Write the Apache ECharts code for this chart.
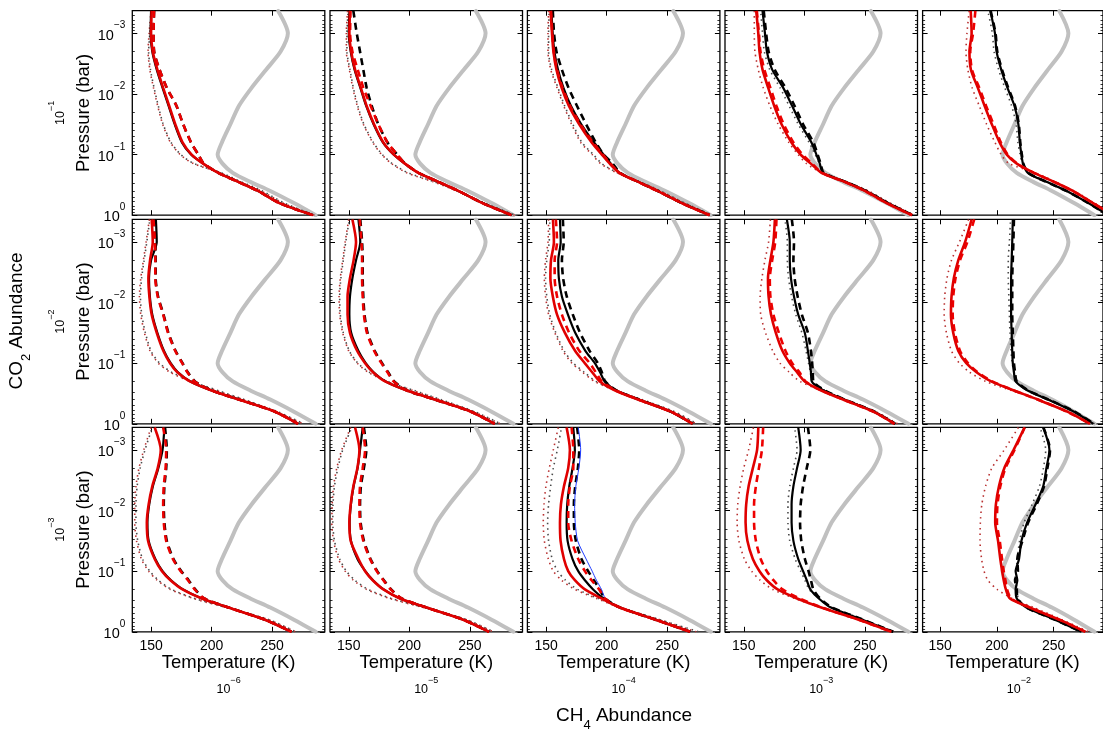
<!DOCTYPE html>
<html><head><meta charset="utf-8">
<script src="https://cdn.jsdelivr.net/npm/echarts@6/dist/echarts.min.js"></script>
<style>html,body{margin:0;padding:0;background:#fff}#c{width:1103px;height:731px}</style>
</head><body><div id="c"></div>
<script>
// ---------------- data ----------------
// pressure levels (bar) shared by every profile
const PRESSURE = [4.27e-4, 1e-3, 2e-3, 3.98e-3, 7.94e-3, 0.0158, 0.0316, 0.0631, 0.1, 0.141, 0.2, 0.282, 0.398, 0.631, 1.0];
const CH4_LABELS = ['−6', '−5', '−4', '−3', '−2'];
const CO2_LABELS = ['−1', '−2', '−3'];
const T_TICKS = [150, 200, 250];
const P_TICKS = [0.001, 0.01, 0.1, 1];

// reference profile (grey, identical in all panels)
const GRAY = [255, 263, 257, 245, 233, 222.5, 215.5, 208.5, 205, 209, 217.5, 232, 248.5, 268, 286];

// panels in row-major order: rows CO2 = 1e-1,1e-2,1e-3 ; columns CH4 = 1e-6..1e-2
const RED_SOLID = [
  [150.5, 150, 151.4, 155.2, 160, 165, 170, 176, 183.5, 193, 205.5, 222, 238.4, 256, 283.7],
  [151, 150.5, 152, 155.2, 160, 164.8, 170.9, 178.6, 187.3, 196.4, 207.4, 224, 240.5, 260.5, 284.5],
  [153.7, 154.8, 156, 158.5, 162.8, 168.8, 177.3, 187.6, 196, 202.5, 210.5, 226, 242, 262, 285],
  [160.3, 162, 163, 165.5, 170.2, 175.2, 181.2, 189.4, 197, 205.4, 214.2, 233.3, 250, 268, 289],
  [176.9, 177.7, 175.8, 177.1, 183.2, 189.2, 195.5, 202.4, 208.7, 217.5, 232.6, 250.4, 266.9, 284.7, 302.5],
  [150.5, 151.4, 149.2, 147.8, 148.6, 150.5, 154.7, 160.2, 165.7, 171.7, 182.1, 200, 222.5, 252.4, 271.4],
  [153, 156, 154, 151, 149, 149, 151, 157, 163.5, 170, 180, 198, 221, 251, 270.5],
  [155.6, 156.4, 154, 153.5, 155.5, 159, 165.5, 174, 181.9, 188, 194.3, 207, 226, 253, 271],
  [175.7, 174.5, 172, 170, 170.5, 172.5, 176.5, 182, 188, 194, 200.4, 214, 232, 257, 274.5],
  [177.7, 172, 166, 162, 160, 159.5, 161.5, 166, 173, 182, 195, 215, 236, 262, 282],
  [153, 158, 155.5, 151, 148, 146.5, 147.5, 153, 159, 166, 176, 192, 214, 244, 266],
  [155.2, 158.8, 157.1, 153.8, 151.6, 150.5, 151.6, 158, 163.5, 169.8, 178.6, 192.3, 214.3, 244.5, 265.9],
  [166.9, 169.6, 168.2, 164.7, 162.2, 161.4, 161.9, 164.7, 168.2, 173.7, 182, 195.7, 210.8, 240.3, 269],
  [162, 161, 157.5, 154, 152, 151.5, 153, 157.5, 163, 169, 178, 194, 214, 245, 272],
  [224.4, 214.7, 206.5, 201.8, 199.1, 198.5, 201, 203, 204.6, 206, 207.9, 211.5, 229, 255, 278]
];
const RED_DASHED = [
  [152.5, 152, 152.5, 157, 163, 171, 176.5, 183, 189, 193.5, 205.5, 222, 238.4, 256, 283.7],
  [151.4, 151.1, 153, 157.4, 162.1, 168.1, 174.4, 182, 190, 196.6, 207.6, 224, 240.5, 260.5, 284.5],
  [154, 155.1, 156.3, 159, 163.5, 169.8, 178.3, 188.6, 196.8, 203, 210.5, 226, 242, 262, 285],
  [160.8, 162.5, 163.8, 167, 172, 177, 183, 191, 198.5, 206.5, 214.5, 233.3, 250, 268, 289],
  [181, 179, 176.5, 178, 184.5, 190.5, 197, 203.5, 209.5, 218, 232.6, 250.4, 266.9, 284.7, 302.5],
  [152, 153.2, 153.5, 153.5, 155.5, 160, 164, 170, 175.7, 180, 186, 200, 222.5, 252.4, 271.4],
  [159, 160.5, 161, 161, 161.5, 162.5, 165, 171, 177, 182, 187, 198, 221, 251, 270.5],
  [158, 159, 157, 157, 159, 163, 169, 177.5, 186, 191, 196, 207.5, 226, 253, 271],
  [177, 176, 173.5, 171.5, 172, 174.5, 179, 184.5, 190, 196, 201, 214, 232, 257, 274.5],
  [180, 174, 167.5, 163.5, 161.5, 161, 163, 167.5, 174.5, 183, 196, 215, 236, 262, 282],
  [160, 162.5, 162, 160.5, 160, 160.5, 162.5, 168, 174.5, 180.5, 186, 194, 214, 244, 266],
  [161.5, 163.5, 161.5, 159.3, 158.8, 159.3, 162, 167.6, 173.1, 178.6, 184.6, 193.7, 214.3, 244.5, 265.9],
  [171, 172.4, 172.4, 169.6, 168.2, 168.2, 171, 176.5, 182, 187.5, 193.8, 198.5, 211, 240.3, 269],
  [166, 165, 162.5, 160, 158.5, 158.5, 160, 164, 169, 174.5, 182, 196, 214.5, 245, 272],
  [224.4, 215.5, 207.5, 203, 200.5, 200, 202.5, 204.5, 206, 207.5, 209, 212.5, 229, 255, 278]
];
const RED_DOTTED = [
  [150, 148.4, 147.5, 149, 152, 155.5, 159.6, 166, 174, 185, 207, 223.3, 241, 259, 285],
  [149, 148, 148, 150.5, 153.3, 157, 162, 169.8, 177.2, 185.4, 198, 220, 239.5, 261.5, 287],
  [152, 151.5, 151.5, 153.8, 159, 164.5, 171, 178.5, 188, 195, 208.5, 227, 244, 264, 287],
  [158.7, 158.7, 159.2, 162, 166.1, 171.6, 178.4, 187.2, 194.9, 201.8, 214.2, 235, 253, 271, 291],
  [175.5, 173.6, 172.7, 174.4, 178.2, 184.5, 190.9, 198.3, 203.8, 210.7, 234, 251.5, 268, 286, 303],
  [148.6, 145.9, 143.7, 141.5, 140.4, 141.5, 144.5, 149.2, 156, 165.7, 182.1, 204, 226, 253.5, 275.5],
  [150, 147, 145, 143, 142, 142.5, 145, 150, 157, 166, 181, 203, 225, 253, 275],
  [152, 151.5, 149.5, 148.5, 149.5, 152, 157.2, 164, 171.2, 180, 190, 207, 228, 255, 274],
  [172, 170.5, 167.5, 165, 163.5, 164, 168, 174, 180, 187.5, 196.4, 214, 234, 259, 277],
  [175, 167, 160, 156, 154, 153.5, 155.5, 160, 167, 176, 190, 213, 237, 263, 283],
  [150, 144, 140, 137.5, 136.5, 136.5, 138, 142, 148, 155, 166, 185, 212, 247, 269],
  [151.6, 144.2, 140.1, 137.4, 136.3, 136, 137.4, 141.5, 147, 153.8, 164.8, 184, 211.5, 247.2, 269.2],
  [160, 155.9, 152.6, 149.8, 148.2, 147.6, 148.5, 151.8, 155.9, 162.7, 173.7, 191.6, 210.8, 243.8, 274],
  [158, 154, 150, 147, 145, 144.5, 146, 150.5, 156.5, 163.5, 174, 192, 214, 247, 274],
  [218.9, 206.5, 195.5, 190, 186.7, 185.4, 185.1, 186.5, 188.7, 192, 200.2, 213.4, 232.6, 257.3, 280.7]
];
const BLACK_SOLID = [
  [150, 149.6, 151, 154.7, 159.5, 164.5, 169.5, 175.5, 183, 193, 205.5, 222, 238.4, 256, 283.7],
  [150.6, 150, 151.6, 154.8, 159.6, 164.4, 170.5, 178.2, 187, 196.2, 207.4, 224, 240.5, 260.5, 284.5],
  [154.3, 155.4, 156.8, 159.8, 164.3, 170.5, 179, 189.5, 197.5, 203.5, 210.5, 226, 242, 262, 285],
  [165.5, 167.5, 169.1, 173.5, 182.6, 190, 197.1, 205.9, 210, 212.8, 215.5, 234, 251, 269, 289.5],
  [194.2, 198.3, 199.7, 203.8, 209.3, 215.5, 218.9, 220.2, 221.6, 223, 227.2, 243.6, 261.4, 280.6, 298],
  [154, 154.7, 150, 148.3, 149, 151, 155.2, 160.7, 166.2, 172.2, 182.5, 200, 222.5, 252.4, 271.4],
  [158, 159.5, 156, 153, 151, 150.5, 152, 158, 164, 170.5, 180.5, 198, 221, 251, 270.5],
  [161.4, 162, 160, 160.5, 163, 168, 174, 182.5, 190.2, 194.5, 198.4, 208, 226.5, 253, 271],
  [185.6, 188, 188, 189, 191.5, 195, 200.4, 203, 204.5, 205.5, 206.2, 216, 233, 257.5, 275],
  [214, 213.5, 213, 212.5, 212.5, 212.5, 213, 213.5, 214, 215, 216.5, 227, 245, 268, 285],
  [161, 159.5, 156, 151.5, 148.5, 147, 148, 153.5, 159.5, 166.5, 176.5, 192, 214, 244, 266],
  [161.5, 159.3, 157.3, 154, 151.8, 150.7, 151.8, 157.2, 163.7, 170, 178.8, 192.3, 214.3, 244.5, 265.9],
  [172.4, 173.7, 171.8, 169.1, 167.4, 166.9, 167.7, 171.8, 176.5, 182, 188.8, 197.6, 211, 240.3, 269],
  [195, 197, 194, 191, 189.5, 189.5, 191, 195, 199, 202, 205, 212, 222, 248, 273],
  [240.8, 246.3, 243.6, 240.8, 234, 226.6, 221.6, 219.5, 216.5, 218, 216.5, 217.5, 226, 251, 274.5]
];
const BLACK_DASHED = [
  [152.5, 152, 152.5, 157, 163, 171, 176.5, 183, 189, 193.5, 205.5, 222, 238.4, 256, 283.7],
  [153.8, 156.6, 159.3, 162, 164.8, 169, 174.4, 182, 190, 196.6, 207.6, 224, 240.5, 260.5, 284.5],
  [155.5, 156.5, 158.5, 163, 168.5, 175.5, 183, 191, 197.5, 205, 211, 226, 242, 262, 285],
  [166.5, 168.5, 170.5, 175.5, 184.5, 192, 199, 207.5, 211, 213.5, 216, 234, 251, 269, 289.5],
  [194.5, 198.8, 200.3, 204.5, 210, 216, 219.3, 220.6, 222, 223.3, 227.5, 243.6, 261.4, 280.6, 298],
  [152.3, 153.5, 153.8, 153.8, 155.8, 160.3, 164.3, 170.3, 176, 180.3, 186.3, 200, 222.5, 252.4, 271.4],
  [159.5, 161, 161.5, 161.5, 162, 163, 165.5, 171.5, 177.5, 182.5, 187.5, 198, 221, 251, 270.5],
  [163.8, 164.5, 163, 164, 167, 172, 178, 186, 192.7, 196, 198.8, 208, 226.5, 253, 271],
  [189.7, 191.5, 191, 192, 194.5, 198, 203, 205.5, 206.5, 207, 207.5, 217, 233.5, 258, 275],
  [215, 214.5, 214, 213.5, 213.5, 213.5, 214, 214.5, 215, 216, 217.5, 227.5, 245.5, 268.5, 285.5],
  [161.5, 163, 162.5, 161, 160.5, 161, 163, 168.5, 175, 181, 186.5, 194, 214, 244, 266],
  [162.5, 164.5, 162.5, 160, 159.3, 159.8, 162.5, 168, 173.5, 179, 185, 193.7, 214.3, 244.5, 265.9],
  [175.6, 177.3, 176.2, 174, 172.9, 172.9, 174.5, 179.2, 184.7, 189.4, 194.3, 198.5, 211, 240.3, 269],
  [203, 205, 202, 199, 197, 196.5, 197.5, 200.5, 203.5, 205.5, 207.5, 213, 223, 248.5, 273.5],
  [241, 246.8, 244.5, 241.5, 235, 227.5, 222.5, 218, 218.5, 216, 217.5, 218, 226, 251, 274.5]
];
const BLACK_DOTTED = [
  [150.5, 149, 148, 149.5, 152.5, 156, 160, 166.5, 174.5, 185.5, 208, 224.5, 242, 260, 285.5],
  [149.5, 148.5, 148.5, 151, 153.8, 157.5, 162.5, 170.3, 177.7, 186, 199, 221, 240.5, 262.5, 287.5],
  [152.5, 152, 152, 154.5, 159.8, 165.3, 172, 179.5, 189, 196, 209, 227.5, 244.5, 264.5, 287.5],
  [164, 165.5, 167, 171.5, 180, 187.5, 195, 204, 209, 212.5, 215.5, 235, 252, 270, 290],
  [192, 196, 197.5, 201.5, 207, 213, 217, 218.5, 220.5, 222.5, 228, 244.5, 262, 281, 298.5],
  [149, 146.5, 144.3, 142.2, 141.2, 142.3, 145.3, 150, 157, 167, 184, 205, 227, 254.5, 276],
  [150.5, 147.5, 145.5, 143.5, 142.5, 143, 145.5, 150.5, 157.5, 167, 182, 204, 226, 254, 275.5],
  [153, 152.5, 150.5, 149.5, 150.5, 153, 158, 165, 172.5, 181.5, 191, 208, 229, 256, 274.5],
  [184, 186, 186, 187, 189.5, 193, 198, 201.5, 203.5, 205, 206.5, 217, 234, 258.5, 276],
  [212, 211, 210, 210, 210.5, 211, 211.5, 212.5, 213.5, 215, 217, 228, 246, 269, 286],
  [151, 145, 141, 138.5, 137.5, 137.5, 139, 143, 149, 156, 167, 186, 213, 247.5, 269.5],
  [152.5, 145, 141, 138.2, 137, 136.8, 138.2, 142.5, 148, 155, 166, 185, 212.5, 247.5, 269.5],
  [162.7, 159.2, 155.9, 153.7, 152, 151.2, 152, 155, 159.5, 166, 176, 193, 212, 244, 276],
  [192, 194, 191, 188, 186.5, 186.5, 188, 192.5, 197, 200.5, 204, 212, 223, 249, 274],
  [238, 243, 241, 237.5, 231, 224, 220, 218, 217, 217, 217.5, 219, 227, 252, 275]
];
// thin blue profile, present only in the CO2 1e-3 / CH4 1e-4 panel (index 12)
const BLUE_PANEL = 12;
const BLUE = [176.5, 178.5, 177, 174.5, 173.5, 174, 176, 183, 188, 191.5, 195.7, 199, 211, 240.3, 269];

// ---------------- layout ----------------
const FONT = '"Liberation Sans", Arial, Helvetica, sans-serif';
const COL_LEFT = [132.3, 330, 527.4, 725, 922.6];
const ROW_TOP = [10.7, 219.3, 427.3];
const PW = 192.5, PH = 204.5;
const XMIN = 134.5, XMAX = 293.5, PMIN = 4.24e-4, PMAX = 1;
const MINOR_P = [];
for (let e = -4; e < 0; e++) for (let k = 2; k < 10; k++) { const v = k * Math.pow(10, e); if (v > PMIN && v < PMAX) MINOR_P.push(v); }

function supText(e) { return '{b|10}{s|' + e + '}'; }
const supRich = (fs, ss) => ({
  b: { fontSize: fs, fontFamily: FONT, color: '#000', lineHeight: fs + 8, verticalAlign: 'bottom' },
  s: { fontSize: ss, fontFamily: FONT, color: '#000', lineHeight: fs + 8, verticalAlign: 'top' }
});

const chart = echarts.init(document.getElementById('c'), null, { renderer: 'canvas', width: 1103, height: 731 });
const grids = [], xAxes = [], yAxes = [], series = [];
const mk = (arr) => PRESSURE.map((p, k) => [arr[k], p]);

for (let r = 0; r < 3; r++) {
  for (let c = 0; c < 5; c++) {
    const i = r * 5 + c;
    grids.push({ left: COL_LEFT[c], top: ROW_TOP[r], width: PW, height: PH, show: true,
      borderColor: '#000', borderWidth: 1.3, backgroundColor: '#fff', containLabel: false });
    const xBase = { type: 'value', gridIndex: i, min: XMIN, max: XMAX, splitLine: { show: false },
      axisLine: { show: false } };
    xAxes.push(Object.assign({}, xBase, {
      position: 'bottom',
      axisTick: { show: true, inside: true, length: 5, customValues: T_TICKS, lineStyle: { color: '#000', width: 1 } },
      axisLabel: { show: r === 2, customValues: T_TICKS, margin: 7, fontSize: 14, fontFamily: FONT, color: '#000' },
      name: r === 2 ? 'Temperature (K)' : '', nameLocation: 'middle', nameGap: 22,
      nameTextStyle: { fontSize: 18.5, fontFamily: FONT, color: '#000' }
    }));
    xAxes.push(Object.assign({}, xBase, {
      position: 'top',
      axisTick: { show: true, inside: true, length: 5, customValues: T_TICKS, lineStyle: { color: '#000', width: 1 } },
      axisLabel: { show: false }
    }));
    const yBase = { type: 'log', logBase: 10, gridIndex: i, min: PMIN, max: PMAX, inverse: true,
      splitLine: { show: false }, axisLine: { show: false } };
    ['left', 'right'].forEach(pos => {
      yAxes.push(Object.assign({}, yBase, {
        position: pos,
        axisTick: { show: true, inside: true, length: 5, customValues: P_TICKS, lineStyle: { color: '#000', width: 1 } },
        axisLabel: (pos === 'left' && c === 0) ? {
          show: true, customValues: P_TICKS, margin: 7, padding: [0, 0, 3, 0],
          formatter: v => { const e = Math.round(Math.log10(v)); return supText(e < 0 ? '−' + (-e) : String(e)); },
          rich: supRich(14.5, 10)
        } : { show: false },
        name: (pos === 'left' && c === 0) ? 'Pressure (bar)' : '', nameLocation: 'middle', nameRotate: 90, nameGap: 38,
        nameTextStyle: { fontSize: 18.5, fontFamily: FONT, color: '#000' }
      }));
      yAxes.push(Object.assign({}, yBase, {
        position: pos,
        axisTick: { show: true, inside: true, length: 2.5, customValues: MINOR_P, lineStyle: { color: '#000', width: 0.8 } },
        axisLabel: { show: false }
      }));
    });

    const base = { type: 'line', xAxisIndex: 2 * i, yAxisIndex: 4 * i, showSymbol: false, symbol: 'none',
      silent: true, animation: false, smooth: 0.25, clip: true };
    series.push(Object.assign({}, base, { data: mk(GRAY), z: 1, lineStyle: { color: '#c0c0c0', width: 4, cap: 'round' } }));
    series.push(Object.assign({}, base, { data: mk(BLACK_DOTTED[i]), z: 2, lineStyle: { color: '#4a4a4a', width: 1.6, type: [1.5, 4], dashOffset: 2.5 } }));
    series.push(Object.assign({}, base, { data: mk(RED_DOTTED[i]), z: 3, lineStyle: { color: '#b83030', width: 1.6, type: [1.5, 4] } }));
    series.push(Object.assign({}, base, { data: mk(BLACK_DASHED[i]), z: 4, lineStyle: { color: '#000', width: 2.6, type: [7, 5] } }));
    if (i === BLUE_PANEL) series.push(Object.assign({}, base, { data: mk(BLUE), z: 5, lineStyle: { color: '#1f3dff', width: 1 } }));
    series.push(Object.assign({}, base, { data: mk(BLACK_SOLID[i]), z: 6, lineStyle: { color: '#000', width: 2.2 } }));
    series.push(Object.assign({}, base, { data: mk(RED_DASHED[i]), z: 7, lineStyle: { color: '#ee0000', width: 2.6, type: [7, 5] } }));
    series.push(Object.assign({}, base, { data: mk(RED_SOLID[i]), z: 8, lineStyle: { color: '#e00000', width: 2.6 } }));
  }
}

// outer labels
const graphics = [];
const txt = (x, y, text, rich, rot) => ({ type: 'text', x, y, rotation: rot || 0, silent: true,
  style: { text, rich, align: 'center', verticalAlign: 'middle', textAlign: 'center', textVerticalAlign: 'middle' } });
for (let r = 0; r < 3; r++) graphics.push(txt(57, ROW_TOP[r] + PH / 2, supText(CO2_LABELS[r]), supRich(12.5, 9), Math.PI / 2));
for (let c = 0; c < 5; c++) graphics.push(txt(COL_LEFT[c] + PW / 2, 686, supText(CH4_LABELS[c]), supRich(12.5, 9), 0));
const subRich = {
  b: { fontSize: 19, fontFamily: FONT, color: '#000', lineHeight: 26, verticalAlign: 'top' },
  s: { fontSize: 13, fontFamily: FONT, color: '#000', lineHeight: 26, verticalAlign: 'bottom' }
};
graphics.push(txt(20, 321, '{b|CO}{s|2}{b| Abundance}', subRich, Math.PI / 2));
graphics.push(txt(624, 719, '{b|CH}{s|4}{b| Abundance}', subRich, 0));

chart.setOption({
  animation: false,
  backgroundColor: '#fff',
  grid: grids, xAxis: xAxes, yAxis: yAxes, series: series,
  graphic: { elements: graphics }
});
</script>
</body></html>
